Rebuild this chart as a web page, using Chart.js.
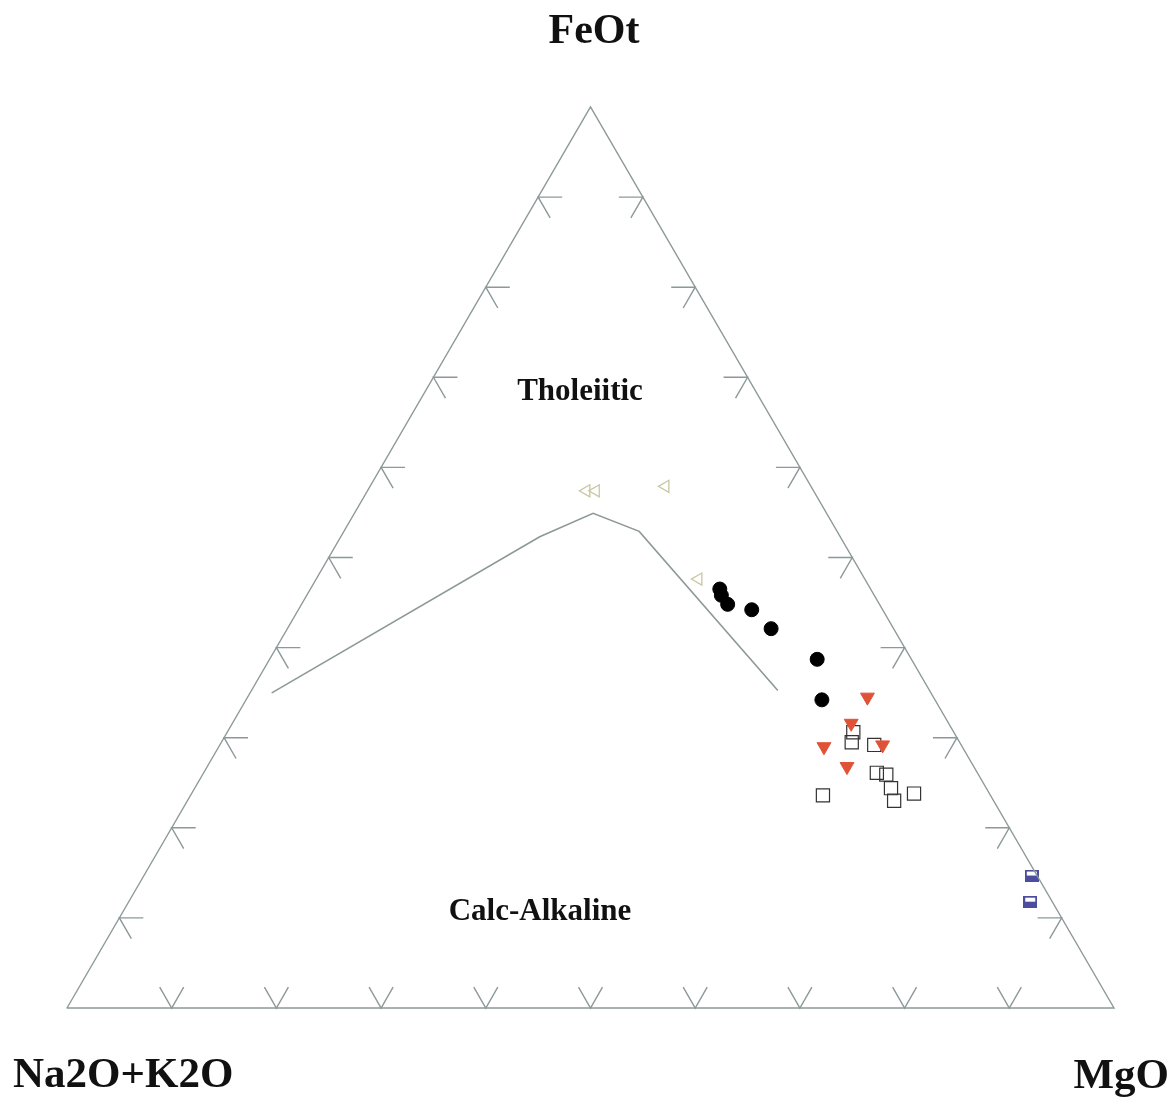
<!DOCTYPE html>
<html>
<head>
<meta charset="utf-8">
<script src="https://cdn.jsdelivr.net/npm/chart.js@4.4.1/dist/chart.umd.min.js"></script>
<style>
html,body{margin:0;padding:0;background:#ffffff;}
#wrap{width:1175px;height:1105px;}
</style>
</head>
<body>
<div id="wrap"><canvas id="c" width="1175" height="1105"></canvas></div>
<script>
// Ternary compositions: [A = Na2O+K2O, F = FeOt, M = MgO] in %
const apexLabels = ['Na2O+K2O', 'FeOt', 'MgO'];
const fieldLabels = ['Tholeiitic', 'Calc-Alkaline'];
const tickValues = [10, 20, 30, 40, 50, 60, 70, 80, 90];

// Irvine & Baragar boundary
const boundaryA = [62.9, 28.7, 22.3, 18.9, 14.5];
const boundaryF = [35.0, 52.3, 54.9, 52.9, 35.3];
const boundaryM = [2.1, 19.0, 22.8, 28.2, 50.2];

// open left-pointing triangles
const triA = [21.7, 20.8, 13.9, 15.9];
const triF = [57.4, 57.4, 57.9, 47.6];
const triM = [20.9, 21.8, 28.2, 36.5];

// filled circles
const cirA = [14.4, 14.6, 14.5, 12.5, 11.7, 9.0, 10.8];
const cirF = [46.5, 45.8, 44.8, 44.2, 42.1, 38.7, 34.2];
const cirM = [39.1, 39.6, 40.7, 43.3, 46.2, 52.3, 55.0];

// red inverted triangles
const redA = [6.3, 9.3, 13.2, 7.5, 12.1];
const redF = [34.5, 31.6, 29.0, 29.2, 26.8];
const redM = [59.2, 59.1, 57.8, 63.3, 61.1];

// open squares
const sqA = [9.6, 10.3, 8.3, 9.6, 8.8, 9.1, 9.5, 7.2, 16.0];
const sqF = [30.6, 29.5, 29.2, 26.1, 25.9, 24.4, 23.0, 23.8, 23.6];
const sqM = [59.8, 60.2, 62.5, 64.3, 65.3, 66.5, 67.5, 69.0, 60.4];

// half-filled blue squares
const bluA = [0.5, 2.1];
const bluF = [14.7, 11.8];
const bluM = [84.8, 86.1];

const H = Math.sqrt(3) / 2;
function tern(A, F, M) {
  const s = A + F + M;
  const f = F / s * 100, m = M / s * 100;
  return { x: m + f / 2, y: f * H };
}
function pts(A, F, M) { return A.map((a, i) => tern(a, F[i], M[i])); }

const corners = [tern(100, 0, 0), tern(0, 0, 100), tern(0, 100, 0), tern(100, 0, 0)];

// half-filled square marker
const blueMark = document.createElement('canvas');
blueMark.width = 14; blueMark.height = 12;
(function () {
  const g = blueMark.getContext('2d');
  g.fillStyle = '#ffffff'; g.fillRect(0, 0, 14, 12);
  g.fillStyle = '#4b4d9e'; g.fillRect(0, 6, 14, 6);
  g.strokeStyle = '#4b4d9e'; g.lineWidth = 2; g.strokeRect(1, 1, 12, 10);
})();

const lineColor = '#8d9898';

const ternaryDecor = {
  id: 'ternaryDecor',
  afterDatasetsDraw(chart) {
    const ctx = chart.ctx;
    const xs = chart.scales.x, ys = chart.scales.y;
    const P = (p) => [xs.getPixelForValue(p.x), ys.getPixelForValue(p.y)];
    const L = 24, cx = Math.cos(Math.PI / 3) * L, sy = Math.sin(Math.PI / 3) * L;
    ctx.save();
    ctx.strokeStyle = lineColor;
    ctx.lineWidth = 1.4;
    ctx.beginPath();
    tickValues.forEach(v => {
      // bottom edge (A -> M)
      let [x, y] = P(tern(100 - v, 0, v));
      ctx.moveTo(x - cx, y - sy); ctx.lineTo(x, y); ctx.lineTo(x + cx, y - sy);
      // left edge (A -> F)
      [x, y] = P(tern(100 - v, v, 0));
      ctx.moveTo(x + L, y); ctx.lineTo(x, y); ctx.lineTo(x + cx, y + sy);
      // right edge (M -> F)
      [x, y] = P(tern(0, v, 100 - v));
      ctx.moveTo(x - L, y); ctx.lineTo(x, y); ctx.lineTo(x - cx, y + sy);
    });
    ctx.stroke();

    ctx.fillStyle = '#111111';
    ctx.textBaseline = 'alphabetic';
    ctx.font = 'bold 42px "Liberation Serif", "Times New Roman", serif';
    ctx.textAlign = 'center';
    ctx.fillText(apexLabels[1], 594, 43);
    ctx.font = 'bold 43px "Liberation Serif", "Times New Roman", serif';
    ctx.textAlign = 'left';
    ctx.fillText(apexLabels[0], 13, 1087);
    ctx.textAlign = 'right';
    ctx.fillText(apexLabels[2], 1169, 1088);

    ctx.font = 'bold 31px "Liberation Serif", "Times New Roman", serif';
    ctx.textAlign = 'center';
    ctx.fillText(fieldLabels[0], 580, 400);
    ctx.fillText(fieldLabels[1], 540, 920);
    ctx.restore();
  }
};

new Chart(document.getElementById('c'), {
  type: 'scatter',
  data: {
    datasets: [
      { data: corners, showLine: true, borderColor: lineColor, borderWidth: 1.4, pointRadius: 0, fill: false, tension: 0 },
      { data: pts(boundaryA, boundaryF, boundaryM), showLine: true, borderColor: lineColor, borderWidth: 1.6, pointRadius: 0, fill: false, tension: 0 },
      { data: pts(triA, triF, triM), pointStyle: 'triangle', rotation: -90, pointRadius: 7, borderColor: '#c9c7a2', borderWidth: 1.3, backgroundColor: 'rgba(255,255,255,0)' },
      { data: pts(cirA, cirF, cirM), pointStyle: 'circle', pointRadius: 7, borderColor: '#000000', borderWidth: 1, backgroundColor: '#000000' },
      { data: pts(redA, redF, redM), pointStyle: 'triangle', rotation: 180, pointRadius: 8, borderColor: '#e05238', borderWidth: 1, backgroundColor: '#e05238' },
      { data: pts(sqA, sqF, sqM), pointStyle: 'rect', pointRadius: 9.3, borderColor: '#333333', borderWidth: 1.2, backgroundColor: 'rgba(255,255,255,0)' },
      { data: pts(bluA, bluF, bluM), pointStyle: blueMark, pointRadius: 7 }
    ]
  },
  options: {
    responsive: false,
    animation: false,
    devicePixelRatio: 1,
    layout: { padding: { left: 67, right: 61, top: 107, bottom: 97 } },
    clip: false,
    scales: {
      x: { type: 'linear', min: 0, max: 100, display: false },
      y: { type: 'linear', min: 0, max: 100 * H, display: false }
    },
    plugins: { legend: { display: false }, tooltip: { enabled: false } },
    elements: { line: { borderCapStyle: 'round' } }
  },
  plugins: [ternaryDecor]
});
</script>
</body>
</html>
